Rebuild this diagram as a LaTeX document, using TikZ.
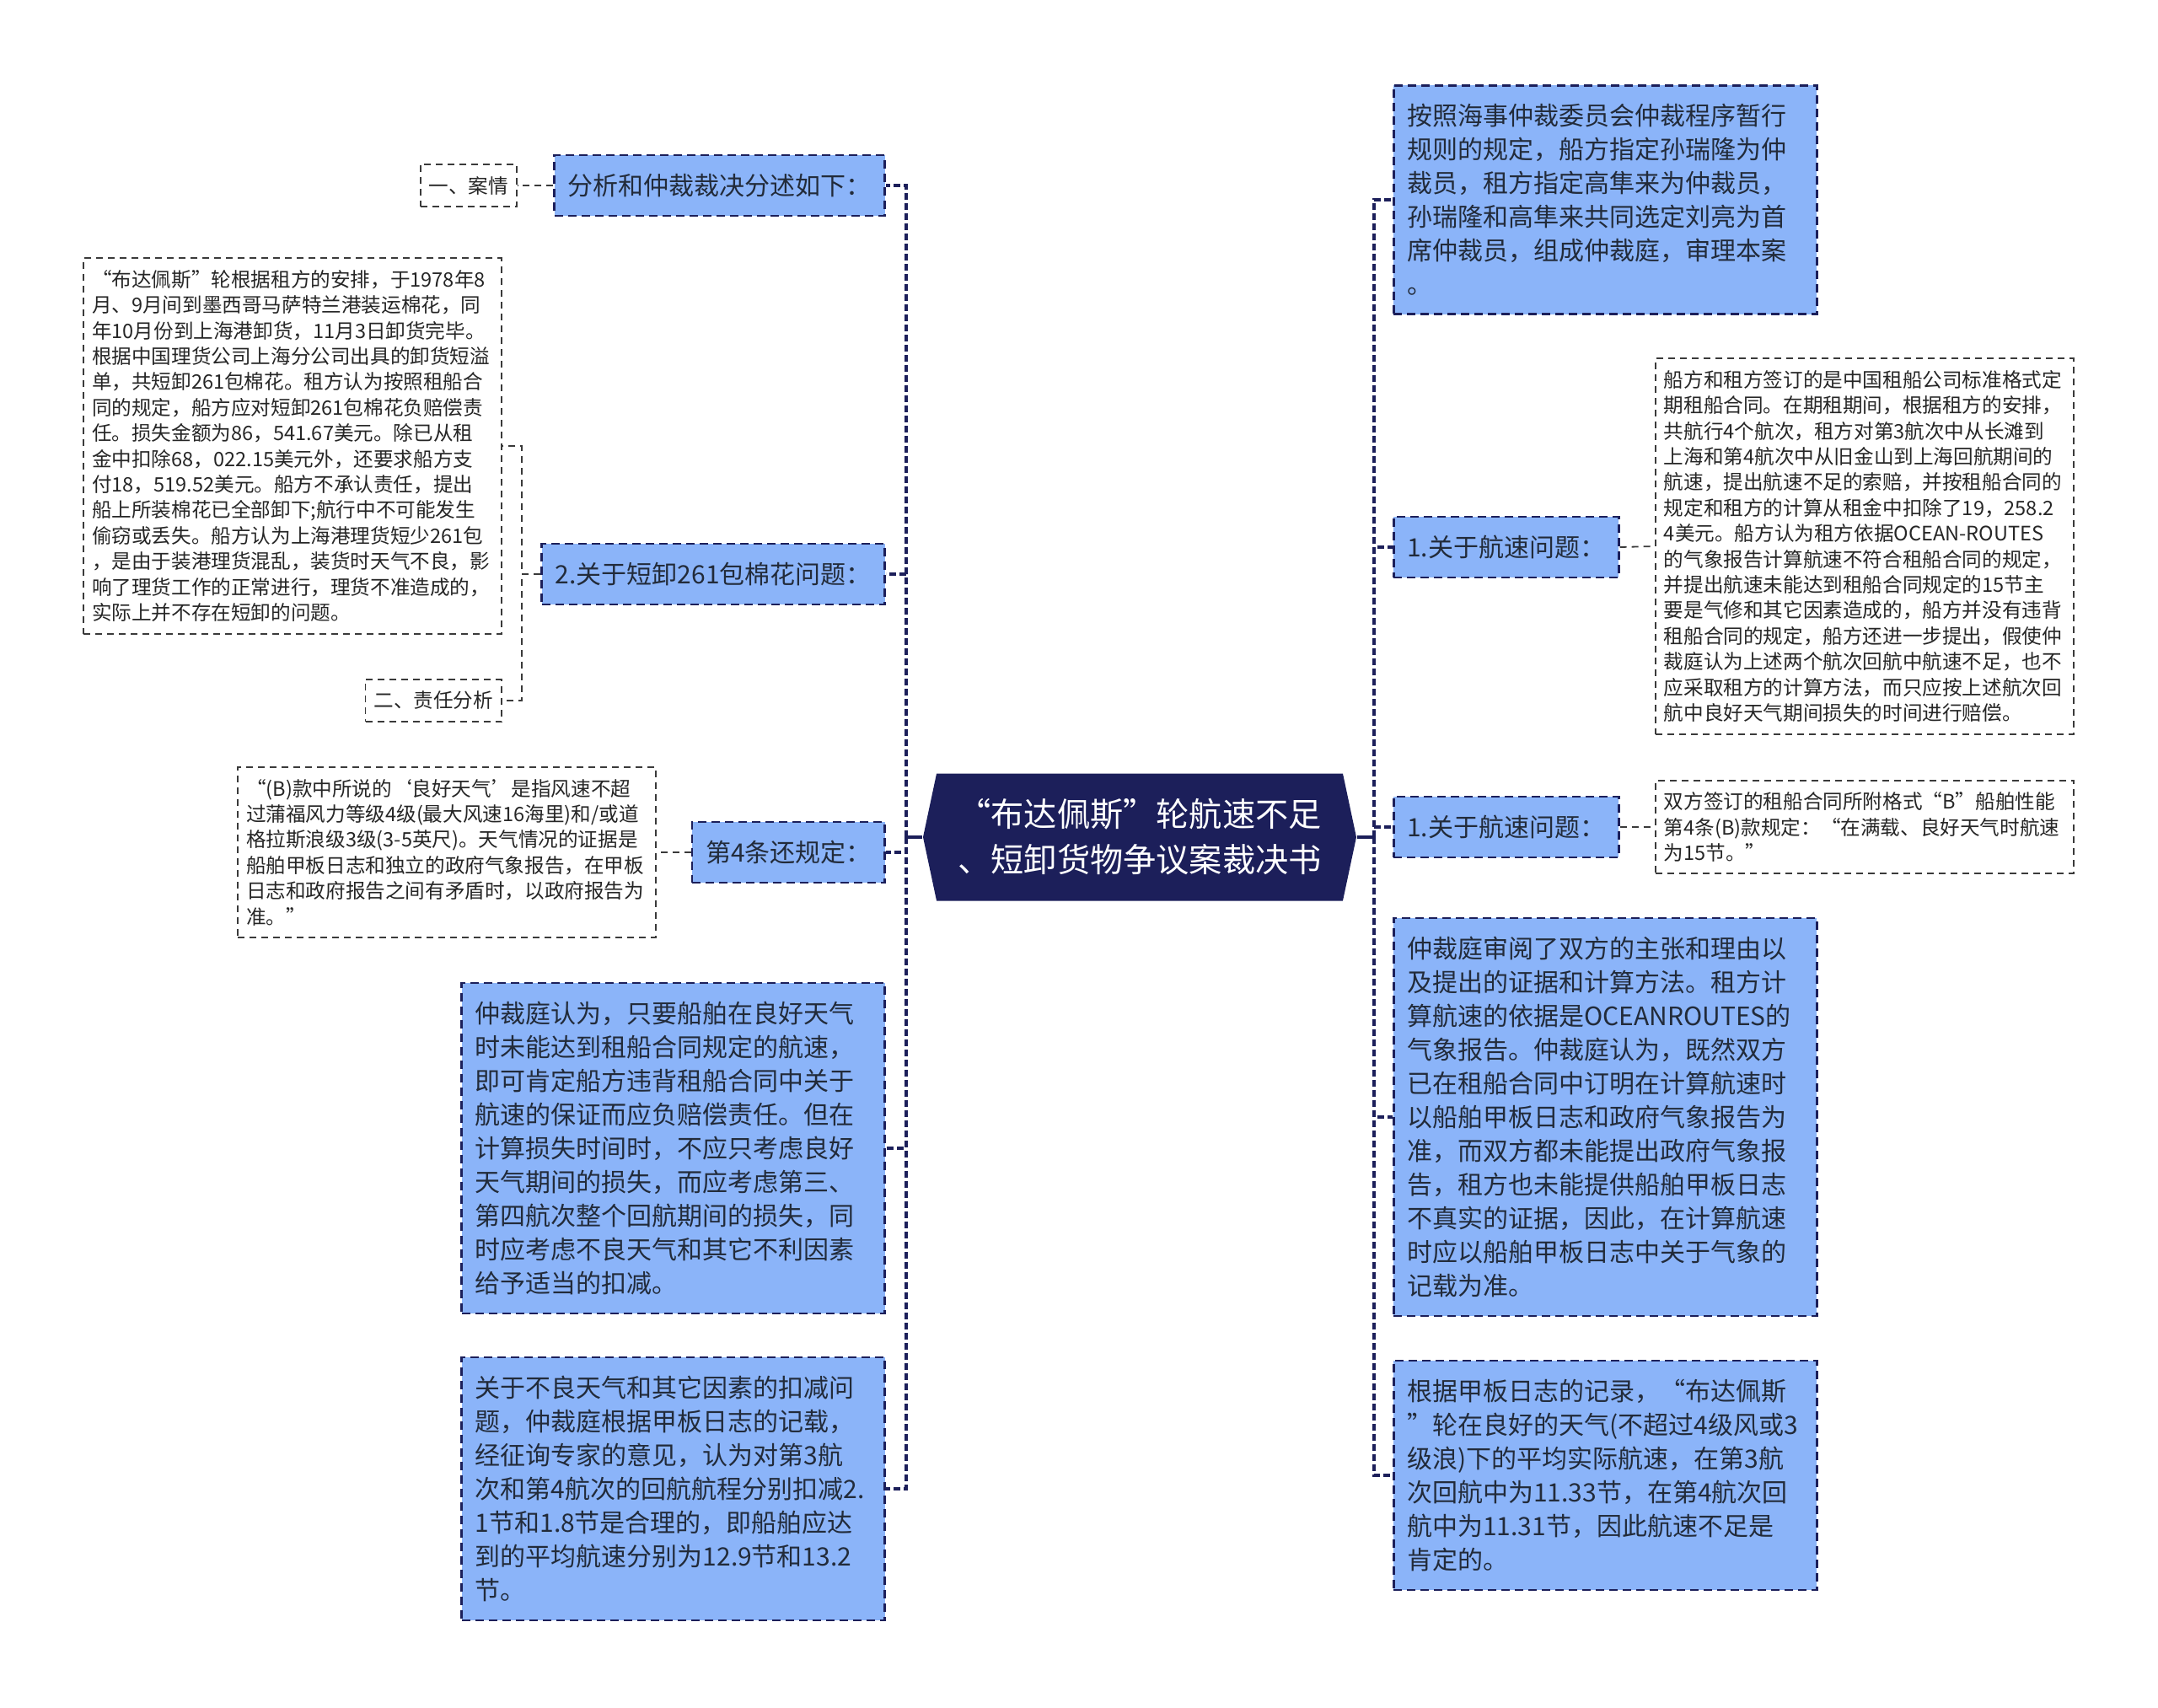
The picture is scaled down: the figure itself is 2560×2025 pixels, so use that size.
\documentclass[tikz,border=0pt]{standalone}
\usepackage{fontspec}
\setmainfont{Noto Sans CJK SC}
\usetikzlibrary{shapes.symbols}
\definecolor{navy}{HTML}{1C1F5A}
\definecolor{skyblue}{HTML}{8BB4F9}
\definecolor{inktext}{HTML}{222B3A}
\definecolor{leafline}{HTML}{3A3A3A}
\tikzset{
  rootbox/.style={shape=signal, signal to=west and east, signal pointer angle=156,
    fill=navy, text=white, minimum width=128.5pt, minimum height=37.75pt,
    font=\fontsize{9.8pt}{13.5pt}\selectfont, align=left, inner sep=0pt},
  branchbox/.style={draw=navy, fill=skyblue, dash pattern=on 2.5pt off 1.5pt,
    line width=0.65pt, text=inktext, inner xsep=4pt, inner ysep=5.5pt,
    font=\fontsize{7.5pt}{10pt}\selectfont, align=left},
  leafbox/.style={draw=leafline, fill=white, dash pattern=on 2pt off 1.5pt,
    line width=0.45pt, text=black!85, inner xsep=2.5pt, inner ysep=3.5pt,
    font=\fontsize{5.9pt}{7.6pt}\selectfont, align=left},
  link/.style={draw=navy, line width=0.85pt, dash pattern=on 2pt off 1pt},
  stem/.style={draw=navy, line width=0.85pt},
  leaflink/.style={draw=leafline, line width=0.45pt, dash pattern=on 2pt off 1.5pt},
}
\begin{document}
\begin{tikzpicture}[x=0.25pt,y=-0.25pt]
  \useasboundingbox (0,0) rectangle (2560,2025);
  \node[rootbox] (root) at (1352,993) {“布达佩斯”轮航速不足\\、短卸货物争议案裁决书};
  \coordinate (lt) at (1075,993);
  \coordinate (rt) at (1630,993);
  \coordinate (ls) at (619,681);

  \node[branchbox, anchor=east] (b1) at (1051,220) {分析和仲裁裁决分述如下：};
  \node[branchbox, anchor=east] (b2) at (1051,681) {2.关于短卸261包棉花问题：};
  \node[branchbox, anchor=east] (b3) at (1051,1011) {第4条还规定：};
  \node[branchbox, anchor=east, text width=117.5pt] (b4) at (1051,1362)
    {仲裁庭认为，只要船舶在良好天气\\时未能达到租船合同规定的航速，\\即可肯定船方违背租船合同中关于\\航速的保证而应负赔偿责任。但在\\计算损失时间时，不应只考虑良好\\天气期间的损失，而应考虑第三、\\第四航次整个回航期间的损失，同\\时应考虑不良天气和其它不利因素\\给予适当的扣减。};
  \node[branchbox, anchor=east, text width=117.5pt] (b5) at (1051,1766)
    {关于不良天气和其它因素的扣减问\\题，仲裁庭根据甲板日志的记载，\\经征询专家的意见，认为对第3航\\次和第4航次的回航航程分别扣减2.\\1节和1.8节是合理的，即船舶应达\\到的平均航速分别为12.9节和13.2\\节。};

  \node[leafbox, anchor=east] (a1) at (614,220) {一、案情};
  \node[leafbox, anchor=east, text width=119pt] (a2) at (596,529)
    {“布达佩斯”轮根据租方的安排，于1978年8\\月、9月间到墨西哥马萨特兰港装运棉花，同\\年10月份到上海港卸货，11月3日卸货完毕。\\根据中国理货公司上海分公司出具的卸货短溢\\单，共短卸261包棉花。租方认为按照租船合\\同的规定，船方应对短卸261包棉花负赔偿责\\任。损失金额为86，541.67美元。除已从租\\金中扣除68，022.15美元外，还要求船方支\\付18，519.52美元。船方不承认责任，提出\\船上所装棉花已全部卸下;航行中不可能发生\\偷窃或丢失。船方认为上海港理货短少261包\\，是由于装港理货混乱，装货时天气不良，影\\响了理货工作的正常进行，理货不准造成的，\\实际上并不存在短卸的问题。};
  \node[leafbox, anchor=east] (a3) at (596,831) {二、责任分析};
  \node[leafbox, anchor=east, text width=119pt] (a4) at (779,1011)
    {“(B)款中所说的‘良好天气’是指风速不超\\过蒲福风力等级4级(最大风速16海里)和/或道\\格拉斯浪级3级(3-5英尺)。天气情况的证据是\\船舶甲板日志和独立的政府气象报告，在甲板\\日志和政府报告之间有矛盾时，以政府报告为\\准。”};

  \node[branchbox, anchor=west, text width=117.5pt] (c1) at (1652,237)
    {按照海事仲裁委员会仲裁程序暂行\\规则的规定，船方指定孙瑞隆为仲\\裁员，租方指定高隼来为仲裁员，\\孙瑞隆和高隼来共同选定刘亮为首\\席仲裁员，组成仲裁庭，审理本案\\。};
  \node[branchbox, anchor=west] (c2) at (1652,649) {1.关于航速问题：};
  \node[branchbox, anchor=west] (c3) at (1652,981) {1.关于航速问题：};
  \node[branchbox, anchor=west, text width=117.5pt] (c4) at (1652,1325)
    {仲裁庭审阅了双方的主张和理由以\\及提出的证据和计算方法。租方计\\算航速的依据是OCEANROUTES的\\气象报告。仲裁庭认为，既然双方\\已在租船合同中订明在计算航速时\\以船舶甲板日志和政府气象报告为\\准，而双方都未能提出政府气象报\\告，租方也未能提供船舶甲板日志\\不真实的证据，因此，在计算航速\\时应以船舶甲板日志中关于气象的\\记载为准。};
  \node[branchbox, anchor=west, text width=117.5pt] (c5) at (1652,1750)
    {根据甲板日志的记录，“布达佩斯\\”轮在良好的天气(不超过4级风或3\\级浪)下的平均实际航速，在第3航\\次回航中为11.33节，在第4航次回\\航中为11.31节，因此航速不足是\\肯定的。};

  \node[leafbox, anchor=west, text width=119pt] (d2) at (1963,648)
    {船方和租方签订的是中国租船公司标准格式定\\期租船合同。在期租期间，根据租方的安排，\\共航行4个航次，租方对第3航次中从长滩到\\上海和第4航次中从旧金山到上海回航期间的\\航速，提出航速不足的索赔，并按租船合同的\\规定和租方的计算从租金中扣除了19，258.2\\4美元。船方认为租方依据OCEAN-ROUTES\\的气象报告计算航速不符合租船合同的规定，\\并提出航速未能达到租船合同规定的15节主\\要是气修和其它因素造成的，船方并没有违背\\租船合同的规定，船方还进一步提出，假使仲\\裁庭认为上述两个航次回航中航速不足，也不\\应采取租方的计算方法，而只应按上述航次回\\航中良好天气期间损失的时间进行赔偿。};
  \node[leafbox, anchor=west, text width=119pt] (d3) at (1963,981)
    {双方签订的租船合同所附格式“B”船舶性能\\第4条(B)款规定：“在满载、良好天气时航速\\为15节。”};

  \draw[stem] (root.west) -- (lt);
  \draw[stem] (root.east) -- (rt);
  \foreach \n in {b1,b2,b3,b4,b5}
    \draw[link] (lt) |- (\n.east);
  \foreach \n in {c1,c2,c3,c4,c5}
    \draw[link] (rt) |- (\n.west);
  \foreach \n in {a2,a3}
    \draw[leaflink] (b2.west) -- (ls) |- (\n.east);
  \draw[leaflink] (b1.west) -- (a1.east);
  \draw[leaflink] (b3.west) -- (a4.east);
  \draw[leaflink] (c2.east) -- (d2.west);
  \draw[leaflink] (c3.east) -- (d3.west);
\end{tikzpicture}
\end{document}
